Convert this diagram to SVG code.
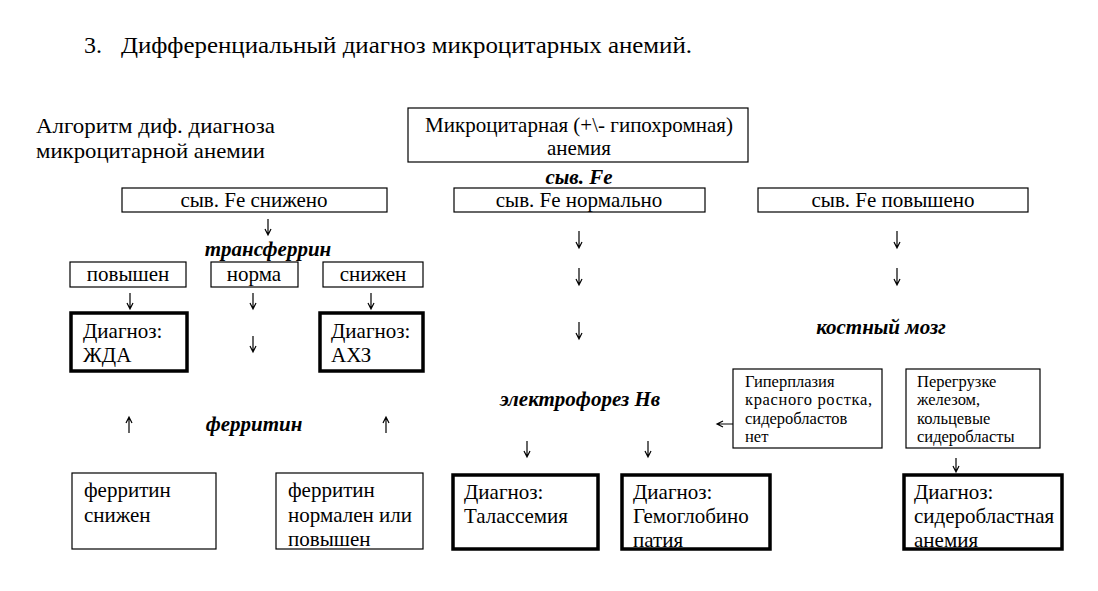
<svg xmlns="http://www.w3.org/2000/svg" width="1098" height="591" viewBox="0 0 1098 591">
<style>
.t{font-size:21px}
.s{font-size:16.5px}
.d{font-size:21px}
.bi{font-size:21px;font-weight:bold;font-style:italic}
.thin{fill:#fff;stroke:#000;stroke-width:1.2}
.thick{fill:#fff;stroke:#000;stroke-width:3.5}
.arr{fill:none;stroke:#000;stroke-width:1.2}
</style>
<rect width="1098" height="591" fill="#fff"/>
<g id="title">
<text font-family="Liberation Serif" x="84" y="53" font-size="24">3.</text>
<text font-family="Liberation Serif" x="121" y="53" font-size="24" textLength="571" lengthAdjust="spacingAndGlyphs">Дифференциальный диагноз микроцитарных анемий.</text>
</g>
<g id="caption">
<text font-family="Liberation Serif" x="36" y="133" font-size="22" textLength="239" lengthAdjust="spacingAndGlyphs">Алгоритм диф. диагноза</text>
<text font-family="Liberation Serif" x="36" y="158" font-size="22" textLength="229" lengthAdjust="spacingAndGlyphs">микроцитарной анемии</text>
</g>
<g id="root">
<rect class="thin" x="408" y="108" width="340" height="54"/>
<text font-family="Liberation Serif" class="t" x="579" y="132" text-anchor="middle">Микроцитарная (+\- гипохромная)</text>
<text font-family="Liberation Serif" class="t" x="579" y="155" text-anchor="middle">анемия</text>
</g>
<g id="label-fe"><text font-family="Liberation Serif" class="bi" x="579" y="184" text-anchor="middle">сыв. Fe</text></g>
<g id="fe-low">
<rect class="thin" x="122" y="188" width="265" height="24"/>
<text font-family="Liberation Serif" class="t" x="254" y="207" text-anchor="middle">сыв. Fe снижено</text>
</g>
<g id="fe-normal">
<rect class="thin" x="454" y="188" width="251" height="24"/>
<text font-family="Liberation Serif" class="t" x="579" y="207" text-anchor="middle">сыв. Fe нормально</text>
</g>
<g id="fe-high">
<rect class="thin" x="758" y="188" width="270" height="24"/>
<text font-family="Liberation Serif" class="t" x="893" y="207" text-anchor="middle">сыв. Fe повышено</text>
</g>
<g id="label-transferrin"><text font-family="Liberation Serif" class="bi" x="268" y="256" text-anchor="middle">трансферрин</text></g>
<g id="tf-high">
<rect class="thin" x="70" y="262" width="116" height="25"/>
<text font-family="Liberation Serif" class="t" x="128" y="281" text-anchor="middle">повышен</text>
</g>
<g id="tf-norm">
<rect class="thin" x="211" y="262" width="87" height="25"/>
<text font-family="Liberation Serif" class="t" x="254" y="281" text-anchor="middle">норма</text>
</g>
<g id="tf-low">
<rect class="thin" x="323" y="262" width="100" height="25"/>
<text font-family="Liberation Serif" class="t" x="373" y="281" text-anchor="middle">снижен</text>
</g>
<g id="dx-ida">
<rect class="thick" x="71" y="313" width="116" height="58"/>
<text font-family="Liberation Serif" class="d" x="83" y="338">Диагноз:</text>
<text font-family="Liberation Serif" class="d" x="83" y="362">ЖДА</text>
</g>
<g id="dx-acd">
<rect class="thick" x="320" y="313" width="103" height="58"/>
<text font-family="Liberation Serif" class="d" x="331" y="338">Диагноз:</text>
<text font-family="Liberation Serif" class="d" x="331" y="362">АХЗ</text>
</g>
<g id="label-ferritin"><text font-family="Liberation Serif" class="bi" x="254" y="431" text-anchor="middle">ферритин</text></g>
<g id="ferr-low">
<rect class="thin" x="72" y="473" width="144" height="76"/>
<text font-family="Liberation Serif" class="t" x="84" y="497">ферритин</text>
<text font-family="Liberation Serif" class="t" x="84" y="522">снижен</text>
</g>
<g id="ferr-normhigh">
<rect class="thin" x="276" y="473" width="147" height="76"/>
<text font-family="Liberation Serif" class="t" x="288" y="497">ферритин</text>
<text font-family="Liberation Serif" class="t" x="288" y="522" textLength="124" lengthAdjust="spacing">нормален или</text>
<text font-family="Liberation Serif" class="t" x="288" y="546">повышен</text>
</g>
<g id="label-bm"><text font-family="Liberation Serif" class="bi" x="881" y="334" text-anchor="middle">костный мозг</text></g>
<g id="label-electro"><text font-family="Liberation Serif" class="bi" x="580" y="406" text-anchor="middle">электрофорез Нв</text></g>
<g id="bm-hyper">
<rect class="thin" x="733" y="369" width="149" height="79"/>
<text font-family="Liberation Serif" class="s" x="745" y="387">Гиперплазия</text>
<text font-family="Liberation Serif" class="s" x="745" y="405" textLength="127" lengthAdjust="spacing">красного ростка,</text>
<text font-family="Liberation Serif" class="s" x="745" y="424">сидеробластов</text>
<text font-family="Liberation Serif" class="s" x="745" y="442">нет</text>
</g>
<g id="bm-overload">
<rect class="thin" x="906" y="369" width="134" height="79"/>
<text font-family="Liberation Serif" class="s" x="917" y="387">Перегрузке</text>
<text font-family="Liberation Serif" class="s" x="917" y="405">железом,</text>
<text font-family="Liberation Serif" class="s" x="917" y="424">кольцевые</text>
<text font-family="Liberation Serif" class="s" x="917" y="442">сидеробласты</text>
</g>
<g id="dx-thal">
<rect class="thick" x="453" y="475" width="145" height="74"/>
<text font-family="Liberation Serif" class="d" x="464" y="499">Диагноз:</text>
<text font-family="Liberation Serif" class="d" x="464" y="523">Талассемия</text>
</g>
<g id="dx-hbp">
<rect class="thick" x="622" y="475" width="148" height="74"/>
<text font-family="Liberation Serif" class="d" x="633" y="499">Диагноз:</text>
<text font-family="Liberation Serif" class="d" x="633" y="523">Гемоглобино</text>
<text font-family="Liberation Serif" class="d" x="633" y="547">патия</text>
</g>
<g id="dx-sider">
<rect class="thick" x="904" y="475" width="158" height="74"/>
<text font-family="Liberation Serif" class="d" x="914" y="499">Диагноз:</text>
<text font-family="Liberation Serif" class="d" x="914" y="523">сидеробластная</text>
<text font-family="Liberation Serif" class="d" x="914" y="547">анемия</text>
</g>
<g id="connectors" class="arr">
<path d="M268,219V235M265,229L268,235L271,229"/>
<path d="M130,293V309M127,303L130,309L133,303"/>
<path d="M253,293V309M250,303L253,309L256,303"/>
<path d="M371,293V309M368,303L371,309L374,303"/>
<path d="M253,336V352M250,346L253,352L256,346"/>
<path d="M129,433V417M126,423L129,417L132,423"/>
<path d="M386,433V417M383,423L386,417L389,423"/>
<path d="M579,231V248M576,242L579,248L582,242"/>
<path d="M579,268V285M576,279L579,285L582,279"/>
<path d="M579,322V339M576,333L579,339L582,333"/>
<path d="M897,231V248M894,242L897,248L900,242"/>
<path d="M897,268V285M894,279L897,285L900,279"/>
<path d="M527,441V457M524,451L527,457L530,451"/>
<path d="M648,441V457M645,451L648,457L651,451"/>
<path d="M956,458V472M953,466L956,472L959,466"/>
<path d="M733,424H717M723,421L717,424L723,427"/>
</g>
</svg>
